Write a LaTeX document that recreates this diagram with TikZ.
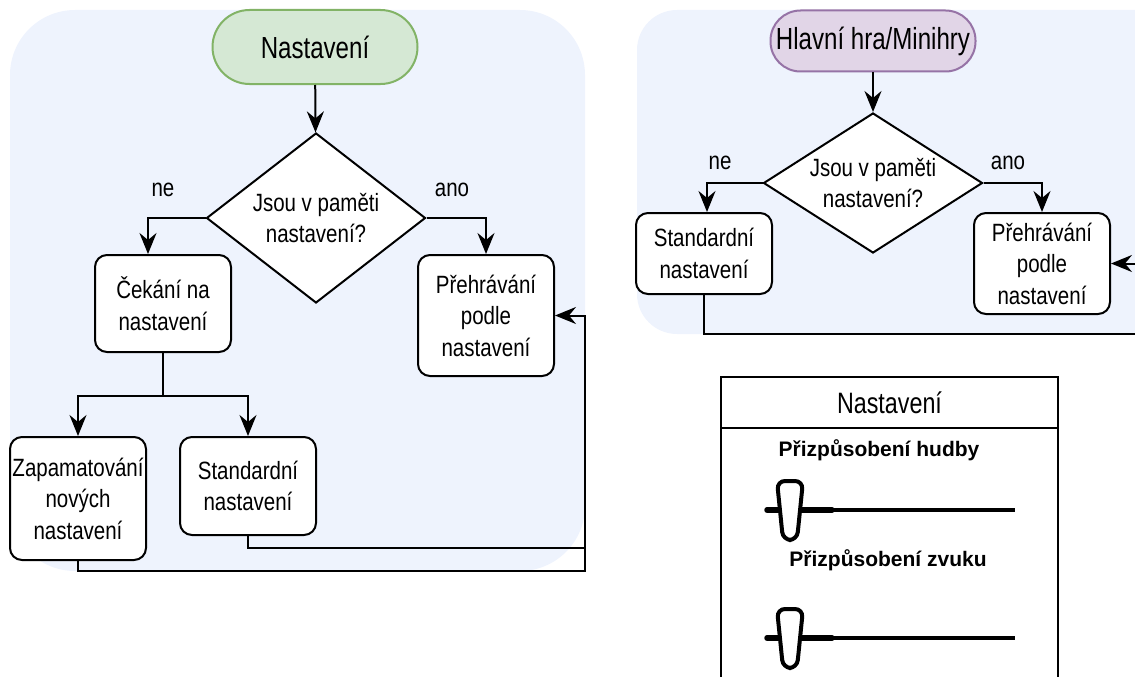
\documentclass[tikz,border=0pt]{standalone}
\usepackage{fontspec}
\setmainfont{Liberation Sans}
\newfontfamily\flowfont{Liberation Sans}[FakeStretch=0.82]
\newfontfamily\headfont{Liberation Sans}[FakeStretch=0.79]
\usetikzlibrary{shapes.geometric,arrows.meta}

\definecolor{panelbg}{RGB}{238,243,253}
\definecolor{termgreen}{HTML}{D5E8D4}
\definecolor{termgreenline}{HTML}{82B366}
\definecolor{termpurple}{HTML}{E1D5E7}
\definecolor{termpurpleline}{HTML}{9673A6}

\begin{document}
\begin{tikzpicture}[x=1pt,y=-1pt,
  line width=2pt,
  flowtext/.style={font=\flowfont\fontsize{25}{31.5}\selectfont},
  proc/.style={draw=black, fill=white, rounded corners=12pt, minimum width=136pt,
    align=center, inner sep=0pt, flowtext},
  term/.style={draw, line width=2pt, inner sep=0pt,
    font=\headfont\fontsize{30.5}{36}\selectfont},
  decision/.style={diamond, draw, fill=white, inner sep=0pt, align=center, flowtext},
  arr/.style={-{Stealth[length=21pt,width=17pt,inset=7pt]}},
  lbl/.style={flowtext, inner sep=0pt},
  sliderlbl/.style={font=\bfseries\fontsize{21}{25}\selectfont, inner sep=0pt},
  knob/.style={draw, line width=4pt, fill=white, rounded corners=8pt}
]
\useasboundingbox (0,0) rectangle (1135,677);
\clip (0,0) rectangle (1135,677);

% background panels
\fill[panelbg, rounded corners=65pt] (10,10) rectangle (585,571);
\fill[panelbg, rounded corners=40pt] (637,10) rectangle (1220,334);

% ---------- settings screen flow ----------
\node[term, fill=termgreen, draw=termgreenline, rounded corners=37pt,
      minimum width=205pt, minimum height=74pt] (startL) at (315,47) {Nastavení};
\node[decision, shape aspect=1.29, minimum width=219pt, minimum height=170pt]
      (decL) at (316,218) {Jsou v paměti\\nastavení?};
\node[proc, minimum height=97pt] (waitL) at (163,303.5) {Čekání na\\nastavení};
\node[proc, minimum height=121pt] (playL) at (486,315.5) {Přehrávání\\podle\\nastavení};
\node[proc, minimum height=123pt] (saveL) at (78,498.5) {Zapamatování\\nových\\nastavení};
\node[proc, minimum height=98pt] (stdL) at (248,486) {Standardní\\nastavení};

\node[lbl] (neL) at (163,190) {ne};
\node[lbl] (anoL) at (452,190) {ano};

\draw[arr] (startL) -- (decL);
\draw[arr] (decL.west) -| ([xshift=-15pt]waitL.north);
\draw[arr] (decL.east) -| (playL.north);
\draw (waitL.south) -- ++(0,43) coordinate (forkL);
\draw[arr] (forkL) -| (saveL.north);
\draw[arr] (forkL) -| (stdL.north);
\coordinate (mergeL) at (585,548);
\coordinate (loopL) at (585,571);
\draw (stdL.south) |- (mergeL);
\draw[arr] (saveL.south) |- (loopL) |- (playL.east);

% ---------- game screen flow ----------
\node[term, fill=termpurple, draw=termpurpleline, rounded corners=30pt,
      minimum width=205pt, minimum height=61pt] (startR) at (873,41) {Hlavní hra/Minihry};
\node[decision, shape aspect=1.6, minimum width=219pt, minimum height=140pt]
      (decR) at (873,183) {Jsou v paměti\\nastavení?};
\node[proc, minimum height=81pt] (stdR) at (704,253.5) {Standardní\\nastavení};
\node[proc, minimum height=101pt] (playR) at (1042,263.5) {Přehrávání\\podle\\nastavení};

\node[lbl] (neR) at (720,163) {ne};
\node[lbl] (anoR) at (1008,163) {ano};

\draw[arr] (startR) -- (decR);
\draw[arr] (decR.west) -| ([xshift=3pt]stdR.north);
\draw[arr] (decR.east) -| (playR.north);
\coordinate (inR) at (1160,263.5);
\draw[arr] (inR) -- (playR.east);
\coordinate (outR) at (1160,334);
\draw (stdR.south) |- (outR);

% ---------- settings window ----------
\draw[line width=2pt] (721,428) rectangle (1058,720);
\node[draw, line width=2pt, minimum width=337pt, minimum height=51pt, inner sep=0pt,
      font=\headfont\fontsize{29.5}{34}\selectfont] (setHead) at (889.5,402.5) {Nastavení};

\node[sliderlbl] (musicLbl) at (879,450) {Přizpůsobení hudby};
\draw[line width=4pt] (800,510) -- (1015,510);
\draw[line width=5.5pt, line cap=round] (767,510) -- (832,510);
\draw[knob] (777,481) -- (803,481) -- (797,540) -- (783,540) -- cycle;

\node[sliderlbl] (soundLbl) at (888,560) {Přizpůsobení zvuku};
\draw[line width=4pt] (800,638) -- (1015,638);
\draw[line width=5.5pt, line cap=round] (767,638) -- (832,638);
\draw[knob] (777,609) -- (803,609) -- (797,668) -- (783,668) -- cycle;
\end{tikzpicture}
\end{document}
